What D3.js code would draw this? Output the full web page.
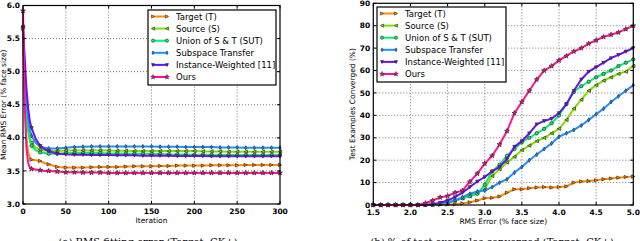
<!DOCTYPE html>
<html>
<head>
<meta charset="utf-8">
<script src="https://cdn.jsdelivr.net/npm/d3@7"></script>
<style>
body { margin: 0; background: #fff; }
svg text { font-family: "DejaVu Sans", sans-serif; }
</style>
</head>
<body>
<div class="content"></div>
<script>
// ---------- data ----------
var seriesNames = ['Target (T)', 'Source (S)', 'Union of S & T (SUT)', 'Subspace Transfer', 'Instance-Weighted [11]', 'Ours'];
var seriesColors = ['#ff8c00', '#7ee000', '#00f07a', '#1e90ff', '#6a12f5', '#ff1493'];
var seriesMarkers = ['right', 'left', 'circle', 'diamond', 'down', 'star'];

// (a) mean RMS error vs iteration
var iters = [0, 2, 4, 6, 8, 10, 15, 20, 25, 30, 40, 50, 60, 70, 80, 90, 100, 110, 120, 130, 140, 150, 160, 170, 180, 190, 200, 210, 220, 230, 240, 250, 260, 270, 280, 290, 300];
var rmsTarget   = [5.65, 4.6, 4.0, 3.78, 3.7, 3.67, 3.66, 3.65, 3.62, 3.6, 3.56, 3.55, 3.55, 3.55, 3.555, 3.56, 3.56, 3.56, 3.565, 3.57, 3.57, 3.57, 3.575, 3.575, 3.58, 3.58, 3.58, 3.58, 3.585, 3.585, 3.585, 3.585, 3.59, 3.59, 3.59, 3.59, 3.59];
var rmsSource   = [5.68, 4.9, 4.4, 4.15, 4.0, 3.93, 3.85, 3.82, 3.81, 3.8, 3.8, 3.81, 3.81, 3.81, 3.81, 3.81, 3.81, 3.805, 3.805, 3.8, 3.8, 3.8, 3.8, 3.8, 3.8, 3.8, 3.8, 3.795, 3.795, 3.795, 3.79, 3.79, 3.79, 3.79, 3.79, 3.79, 3.79];
var rmsUnion    = [5.68, 4.85, 4.35, 4.1, 3.95, 3.88, 3.81, 3.78, 3.77, 3.76, 3.76, 3.77, 3.77, 3.77, 3.77, 3.77, 3.765, 3.765, 3.76, 3.76, 3.76, 3.755, 3.755, 3.75, 3.75, 3.75, 3.745, 3.745, 3.745, 3.74, 3.74, 3.74, 3.74, 3.74, 3.74, 3.74, 3.74];
var rmsSubspace = [5.67, 5.0, 4.55, 4.3, 4.12, 4.03, 3.92, 3.87, 3.85, 3.84, 3.84, 3.85, 3.86, 3.865, 3.87, 3.87, 3.87, 3.87, 3.87, 3.87, 3.87, 3.87, 3.865, 3.865, 3.865, 3.86, 3.86, 3.86, 3.86, 3.855, 3.855, 3.855, 3.85, 3.85, 3.85, 3.85, 3.85];
var rmsInstance = [5.67, 5.2, 4.75, 4.45, 4.25, 4.15, 3.98, 3.88, 3.83, 3.8, 3.76, 3.75, 3.745, 3.745, 3.74, 3.74, 3.74, 3.735, 3.735, 3.735, 3.73, 3.73, 3.73, 3.73, 3.725, 3.725, 3.725, 3.725, 3.72, 3.72, 3.72, 3.72, 3.72, 3.72, 3.72, 3.72, 3.72];
var rmsOurs     = [5.92, 4.5, 3.85, 3.62, 3.55, 3.53, 3.52, 3.51, 3.5, 3.5, 3.49, 3.48, 3.48, 3.475, 3.475, 3.475, 3.47, 3.47, 3.47, 3.47, 3.47, 3.47, 3.47, 3.47, 3.47, 3.47, 3.47, 3.47, 3.47, 3.47, 3.47, 3.47, 3.47, 3.47, 3.47, 3.47, 3.47];
var rmsTicksX = [0, 50, 100, 150, 200, 250, 300];
var rmsTicksY = [3.0, 3.5, 4.0, 4.5, 5.0, 5.5, 6.0];

// (b) % converged vs RMS error
var errs = [1.5, 1.6, 1.7, 1.8, 1.9, 2.0, 2.1, 2.2, 2.3, 2.4, 2.5, 2.6, 2.7, 2.8, 2.9, 3.0, 3.1, 3.2, 3.3, 3.4, 3.5, 3.6, 3.7, 3.8, 3.9, 4.0, 4.1, 4.2, 4.3, 4.4, 4.5, 4.6, 4.7, 4.8, 4.9, 5.0];
var convTarget   = [0, 0, 0, 0, 0, 0, 0, 0, 0, 0.1, 0.2, 0.3, 0.7, 1.2, 2, 3, 3.2, 3.8, 5.5, 7, 7, 7.5, 7.8, 8, 7.8, 8, 8.3, 10, 10.5, 10.7, 11, 11.5, 11.8, 12.2, 12.5, 12.7];
var convSource   = [0, 0, 0, 0, 0, 0, 0, 0, 0.2, 0.5, 1, 2, 3, 4, 5.5, 7, 13, 16, 19, 21.5, 24.5, 26.5, 28.5, 30, 32, 34, 38, 43, 47, 51, 53.5, 55.5, 57, 58.5, 59.5, 62];
var convUnion    = [0, 0, 0, 0, 0, 0, 0, 0, 0.2, 0.5, 1, 2, 3, 4, 5, 9, 15, 18, 22, 25, 28, 30, 32, 34, 36.5, 40, 45, 50.5, 53, 55, 57, 58.5, 60, 62, 63.5, 65];
var convSubspace = [0, 0, 0, 0, 0, 0, 0, 0, 0.2, 0.5, 1, 2, 3.5, 5, 6, 6.5, 8, 10, 11.5, 14.5, 17, 20, 22.5, 25, 27.5, 30.5, 32, 33.5, 35.5, 38, 40.5, 43, 46, 48.5, 51, 53.5];
var convInstance = [0, 0, 0, 0, 0, 0, 0, 0, 0.3, 1, 2, 3.5, 5.5, 8, 10.5, 12.5, 15, 17, 20.5, 26, 28.5, 32, 36, 37.5, 38.5, 41, 45, 51, 56, 59.5, 61.5, 63.5, 65.5, 67, 68.5, 70];
var convOurs     = [0, 0, 0, 0, 0, 0, 0, 0.8, 2, 3.4, 4, 5.5, 6.4, 10.4, 14, 18.5, 22, 27, 33, 41, 46, 51, 56, 60, 62, 64.5, 66.5, 68.5, 70, 72, 73.5, 75, 76, 77, 78.5, 80];
var convTicksX = [1.5, 2.0, 2.5, 3.0, 3.5, 4.0, 4.5, 5.0];
var convTicksY = [0, 10, 20, 30, 40, 50, 60, 70, 80, 90];

// ---------- page ----------
var W = 640, H = 241;
var svg = d3.select('.content').append('svg')
  .attr('width', W)
  .attr('height', H);

function markerPath(kind, r) {
  var s = r;
  if (kind == 'right') return 'M' + (-s) + ',' + (-s) + 'L' + s + ',0L' + (-s) + ',' + s + 'Z';
  if (kind == 'left') return 'M' + s + ',' + (-s) + 'L' + (-s) + ',0L' + s + ',' + s + 'Z';
  if (kind == 'down') return 'M' + (-s) + ',' + (-s * 0.8) + 'L' + s + ',' + (-s * 0.8) + 'L0,' + s + 'Z';
  if (kind == 'diamond') return 'M0,' + (-s * 1.2) + 'L' + (s * 0.65) + ',0L0,' + (s * 1.2) + 'L' + (-s * 0.65) + ',0Z';
  if (kind == 'circle') return d3.symbol(d3.symbolCircle, Math.PI * s * s)();
  return d3.symbol(d3.symbolStar, 2.6 * s * s)();
}

function drawChart(cfg) {
  var x = d3.scaleLinear().domain(cfg.xDomain).range([cfg.left, cfg.right]);
  var y = d3.scaleLinear().domain(cfg.yDomain).range([cfg.bottom, cfg.top]);
  var g = svg.append('g');

  // grid
  g.append('g').selectAll('line.gx')
    .data(cfg.ticksX.slice(1, -1)).enter().append('line')
    .attr('x1', d => x(d)).attr('x2', d => x(d))
    .attr('y1', cfg.top).attr('y2', cfg.bottom)
    .style('stroke', '#555').style('stroke-width', 0.8).style('stroke-dasharray', '1,2');
  g.append('g').selectAll('line.gy')
    .data(cfg.ticksY.slice(1, -1)).enter().append('line')
    .attr('y1', d => y(d)).attr('y2', d => y(d))
    .attr('x1', cfg.left).attr('x2', cfg.right)
    .style('stroke', '#555').style('stroke-width', 0.8).style('stroke-dasharray', '1,2');

  // lines + markers
  var line = d3.line().x(d => x(d[0])).y(d => y(d[1]));
  cfg.series.forEach(function(vals, i) {
    var pts = cfg.xs.map((v, j) => [v, vals[j]]);
    g.append('path').datum(pts)
      .attr('d', line)
      .style('fill', 'none')
      .style('stroke', seriesColors[i])
      .style('stroke-width', 2);
    g.append('g').selectAll('path')
      .data(pts.filter(cfg.markerFilter)).enter().append('path')
      .attr('transform', d => 'translate(' + x(d[0]) + ',' + y(d[1]) + ')')
      .attr('d', markerPath(seriesMarkers[i], 1.7))
      .style('fill', seriesColors[i])
      .style('stroke', '#3a2a2a')
      .style('stroke-width', 0.7);
  });

  // frame
  g.append('rect')
    .attr('x', cfg.left).attr('y', cfg.top)
    .attr('width', cfg.right - cfg.left).attr('height', cfg.bottom - cfg.top)
    .style('fill', 'none').style('stroke', '#000').style('stroke-width', 1.2);

  // ticks (inside) + labels
  var xa = g.append('g').selectAll('g').data(cfg.ticksX).enter().append('g');
  xa.append('line').attr('x1', d => x(d)).attr('x2', d => x(d))
    .attr('y1', cfg.bottom).attr('y2', cfg.bottom - 3).style('stroke', '#000');
  xa.append('line').attr('x1', d => x(d)).attr('x2', d => x(d))
    .attr('y1', cfg.top).attr('y2', cfg.top + 3).style('stroke', '#000');
  xa.append('text')
    .attr('x', d => x(d)).attr('y', cfg.bottom + 9.5)
    .attr('text-anchor', 'middle')
    .style('font-size', '7.5px').style('font-weight', 'bold')
    .text(cfg.fmtX);

  var ya = g.append('g').selectAll('g').data(cfg.ticksY).enter().append('g');
  ya.append('line').attr('y1', d => y(d)).attr('y2', d => y(d))
    .attr('x1', cfg.left).attr('x2', cfg.left + 3).style('stroke', '#000');
  ya.append('line').attr('y1', d => y(d)).attr('y2', d => y(d))
    .attr('x1', cfg.right).attr('x2', cfg.right - 3).style('stroke', '#000');
  ya.append('text')
    .attr('x', cfg.left - 3).attr('y', d => y(d) + 2.6)
    .attr('text-anchor', 'end')
    .style('font-size', '7.5px').style('font-weight', 'bold')
    .text(cfg.fmtY);

  // axis titles
  g.append('text')
    .attr('x', (cfg.left + cfg.right) / 2).attr('y', cfg.bottom + 19)
    .attr('text-anchor', 'middle')
    .style('font-size', '7.5px')
    .text(cfg.xTitle);
  g.append('text')
    .attr('transform', 'translate(' + cfg.yTitleX + ',' + ((cfg.top + cfg.bottom) / 2) + ') rotate(-90)')
    .attr('text-anchor', 'middle')
    .style('font-size', '7.5px')
    .text(cfg.yTitle);

  // caption (cut by the bottom edge, as in the source figure)
  g.append('text')
    .attr('x', cfg.capX).attr('y', 245)
    .attr('text-anchor', 'middle')
    .style('font-family', '"DejaVu Serif", serif')
    .style('font-size', '10px')
    .text(cfg.caption);

  // legend
  var lg = g.append('g');
  lg.append('rect')
    .attr('x', cfg.legX).attr('y', cfg.legY)
    .attr('width', cfg.legW).attr('height', 75)
    .style('fill', '#fff').style('stroke', '#000').style('stroke-width', 1.2);
  seriesNames.forEach(function(name, i) {
    var yy = cfg.legY + 6.5 + i * 12.1;
    lg.append('line')
      .attr('x1', cfg.legX + 4).attr('x2', cfg.legX + 20)
      .attr('y1', yy).attr('y2', yy)
      .style('stroke', seriesColors[i]).style('stroke-width', 2);
    [cfg.legX + 5, cfg.legX + 19].forEach(function(mx) {
      lg.append('path')
        .attr('transform', 'translate(' + mx + ',' + yy + ')')
        .attr('d', markerPath(seriesMarkers[i], 1.6))
        .style('fill', seriesColors[i]).style('stroke', '#3a2a2a').style('stroke-width', 0.6);
    });
    lg.append('text')
      .attr('x', cfg.legX + 28).attr('y', yy + 3.2)
      .style('font-size', '8.5px')
      .text(name);
  });
}

drawChart({
  xs: iters,
  series: [rmsTarget, rmsSource, rmsUnion, rmsSubspace, rmsInstance, rmsOurs],
  markerFilter: d => d[0] % 10 == 0,
  xDomain: [0, 300], yDomain: [3.0, 6.0],
  left: 23, right: 280, top: 5.5, bottom: 204,
  ticksX: rmsTicksX, ticksY: rmsTicksY,
  fmtX: d => d, fmtY: d => d3.format('.1f')(d),
  xTitle: 'Iteration', yTitle: 'Mean RMS Error (% face size)', yTitleX: 6,
  caption: '(a) RMS fitting error (Target: CK+)', capX: 148,
  legX: 148, legY: 10, legW: 128
});

drawChart({
  xs: errs,
  series: [convTarget, convSource, convUnion, convSubspace, convInstance, convOurs],
  markerFilter: d => true,
  xDomain: [1.5, 5.0], yDomain: [0, 90],
  left: 373.3, right: 633.3, top: 3.3, bottom: 205,
  ticksX: convTicksX, ticksY: convTicksY,
  fmtX: d => d3.format('.1f')(d), fmtY: d => d,
  xTitle: 'RMS Error (% face size)', yTitle: 'Test Examples Converged (%)', yTitleX: 355,
  caption: '(b) % of test examples converged (Target: CK+)', capX: 492,
  legX: 377, legY: 7, legW: 129
});
</script>
</body>
</html>
